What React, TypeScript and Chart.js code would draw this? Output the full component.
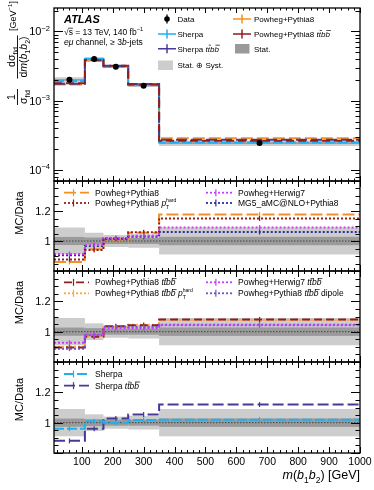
import React, { useEffect, useRef } from "react";
import { Chart, registerables } from "chart.js";

Chart.register(...registerables);

// ---------------- data ----------------
const binEdges = [10, 110, 170, 250, 350, 1000];
const xTickLabels = [100, 200, 300, 400, 500, 600, 700, 800, 900, 1000];
const mainYTicks = [1e-4, 1e-3, 1e-2];
const ratioYTickLabels = [1, 1.2];

const dataValues = [2.0e-3, 4.0e-3, 3.1e-3, 1.65e-3, 2.44e-4];
const totalRelErr = [0.09, 0.055, 0.04, 0.045, 0.09];
const statRelErr = [0.027, 0.023, 0.02, 0.02, 0.028];

const sherpaMain = [1.92e-3, 4.04e-3, 3.1e-3, 1.68e-3, 2.49e-4];
const sherpaTtbbMain = [1.76e-3, 3.84e-3, 3.19e-3, 1.74e-3, 2.73e-4];
const powPy8Main = [1.72e-3, 3.78e-3, 3.13e-3, 1.74e-3, 2.87e-4];
const powPy8TtbbMain = [1.79e-3, 3.87e-3, 3.21e-3, 1.72e-3, 2.64e-4];

// ratio panel 1
const r1PowPy8 = [0.86, 0.945, 1.01, 1.055, 1.177];
const r1PowPy8Hard = [0.877, 0.94, 1.017, 1.058, 1.15];
const r1PowH7 = [0.914, 0.973, 1.02, 1.035, 1.09];
const r1MG5 = [0.905, 0.966, 1.015, 1.028, 1.06];
// ratio panel 2
const r2PowPy8Ttbb = [0.896, 0.967, 1.035, 1.042, 1.08];
const r2PowPy8TtbbHard = [0.9, 0.972, 1.03, 1.046, 1.077];
const r2PowH7Ttbb = [0.927, 0.98, 1.022, 1.022, 1.042];
const r2Dipole = [0.888, 0.976, 1.033, 1.03, 1.045];
// ratio panel 3
const r3Sherpa = [0.96, 1.01, 1.0, 1.017, 1.02];
const r3SherpaTtbb = [0.88, 0.96, 1.028, 1.054, 1.12];

// ---------------- styles ----------------
const C_CYAN = "#1fb0ee";
const C_INDIGO = "#463a96";
const C_ORANGE = "#f7901e";
const C_DRED = "#931d1d";
const C_MAG = "#c93cff";
const C_MG5 = "#2e2e98";
const C_DIP = "#6a55c6";
const C_ORANGE2 = "#f9a23f";
const C_LIGHT = "#cdcdcd";
const C_DARK = "#9a9a9a";
const FONT = '"Liberation Sans", Arial, Helvetica, sans-serif';

const DASH_SHERPA = [10, 3];
const DASH_SHTTBB = [11, 4];
const DASH_ORANGE = [12, 4];
const DASH_DRED = [8, 4];
const DOT = [2, 2];

type Seg = {
  t?: string;
  it?: boolean;
  bold?: boolean;
  sub?: boolean;
  sup?: boolean;
  bar?: boolean;
  ss?: [string, string];
};

function segFont(s: Seg, size: number) {
  const sz = s.sub || s.sup ? size * 0.68 : size;
  return `${s.it ? "italic " : ""}${s.bold ? "bold " : ""}${sz}px ${FONT}`;
}

function measureRich(ctx: CanvasRenderingContext2D, segs: Seg[], size: number) {
  let w = 0;
  for (const s of segs) {
    if (s.ss) {
      ctx.font = `${size * 0.6}px ${FONT}`;
      w += Math.max(ctx.measureText(s.ss[0]).width, ctx.measureText(s.ss[1]).width);
    } else {
      ctx.font = segFont(s, size);
      w += ctx.measureText(s.t || "").width;
    }
  }
  return w;
}

function drawRich(
  ctx: CanvasRenderingContext2D,
  segs: Seg[],
  x: number,
  y: number,
  size: number,
  align: "left" | "right" | "center",
  color = "#000"
) {
  const w = measureRich(ctx, segs, size);
  let cx = align === "left" ? x : align === "right" ? x - w : x - w / 2;
  ctx.fillStyle = color;
  ctx.strokeStyle = color;
  ctx.textAlign = "left";
  ctx.textBaseline = "alphabetic";
  for (const s of segs) {
    if (s.ss) {
      ctx.font = `${size * 0.6}px ${FONT}`;
      ctx.fillText(s.ss[0], cx, y + size * 0.32);
      ctx.fillText(s.ss[1], cx, y - size * 0.5);
      cx += Math.max(ctx.measureText(s.ss[0]).width, ctx.measureText(s.ss[1]).width);
      continue;
    }
    ctx.font = segFont(s, size);
    const dy = s.sub ? size * 0.3 : s.sup ? -size * 0.42 : 0;
    const t = s.t || "";
    const tw = ctx.measureText(t).width;
    ctx.fillText(t, cx, y + dy);
    if (s.bar) {
      ctx.lineWidth = Math.max(0.7, size * 0.07);
      ctx.setLineDash([]);
      ctx.beginPath();
      const by = y + dy - size * 0.8;
      ctx.moveTo(cx + (s.it ? 1 : 0), by);
      ctx.lineTo(cx + tw + (s.it ? 1 : 0), by);
      ctx.stroke();
    }
    cx += tw;
  }
  return w;
}

const TTBB: Seg[] = [
  { t: " " },
  { t: "t", it: true },
  { t: "t", it: true, bar: true },
  { t: "b", it: true },
  { t: "b", it: true, bar: true },
];
const PTHARD: Seg[] = [{ t: " " }, { t: "p", it: true }, { ss: ["T", "hard"] }];

function stepPoints(vals: number[]) {
  return binEdges.map((x, i) => ({ x, y: vals[Math.min(i, vals.length - 1)] }));
}
const binCenters = binEdges.slice(0, -1).map((e, i) => (e + binEdges[i + 1]) / 2);

type Series = { vals: number[]; color: string; dash: number[]; axis: string; width?: number };

const mainSeries: Series[] = [
  { vals: powPy8Main, color: C_ORANGE, dash: DASH_ORANGE, axis: "y0" },
  { vals: sherpaMain, color: C_CYAN, dash: DASH_SHERPA, axis: "y0" },
  { vals: sherpaTtbbMain, color: C_INDIGO, dash: DASH_SHTTBB, axis: "y0" },
  { vals: powPy8TtbbMain, color: C_DRED, dash: DASH_DRED, axis: "y0" },
];
const ratioSeries: Series[] = [
  { vals: r1PowPy8, color: C_ORANGE, dash: DASH_ORANGE, axis: "y1" },
  { vals: r1PowPy8Hard, color: C_DRED, dash: DOT, axis: "y1" },
  { vals: r1MG5, color: C_MG5, dash: DOT, axis: "y1" },
  { vals: r1PowH7, color: C_MAG, dash: DOT, axis: "y1" },
  { vals: r2PowPy8TtbbHard, color: C_ORANGE2, dash: DOT, axis: "y2" },
  { vals: r2PowPy8Ttbb, color: C_DRED, dash: DASH_DRED, axis: "y2" },
  { vals: r2Dipole, color: C_DIP, dash: DOT, axis: "y2" },
  { vals: r2PowH7Ttbb, color: C_MAG, dash: DOT, axis: "y2" },
  { vals: r3SherpaTtbb, color: C_INDIGO, dash: DASH_SHTTBB, axis: "y3" },
  { vals: r3Sherpa, color: C_CYAN, dash: DASH_SHERPA, axis: "y3" },
];

const Y0_MIN = Math.pow(10, -4.16);
const Y0_MAX = Math.pow(10, -1.661);
const R_MIN = 0.8;
const R_MAX = 1.4;

const atlasPlugin = {
  id: "atlasDecor",
  beforeDatasetsDraw(chart: any) {
    const ctx: CanvasRenderingContext2D = chart.ctx;
    const xs = chart.scales.x;
    const area = chart.chartArea;
    ctx.save();
    ctx.beginPath();
    ctx.rect(area.left, area.top, area.right - area.left, area.bottom - area.top);
    ctx.clip();
    ["y0", "y1", "y2", "y3"].forEach((id) => {
      const s = chart.scales[id];
      for (let i = 0; i < dataValues.length; i++) {
        const x1 = xs.getPixelForValue(binEdges[i]);
        const x2 = xs.getPixelForValue(binEdges[i + 1]);
        const c = id === "y0" ? dataValues[i] : 1;
        const lay = (rel: number, col: string) => {
          const yt = s.getPixelForValue(c * (1 + rel));
          const yb = s.getPixelForValue(c * (1 - rel));
          ctx.fillStyle = col;
          ctx.fillRect(x1, yt, x2 - x1, yb - yt);
        };
        lay(totalRelErr[i], C_LIGHT);
        lay(statRelErr[i], C_DARK);
      }
      if (id !== "y0") {
        const y1 = s.getPixelForValue(1);
        ctx.strokeStyle = "#444";
        ctx.lineWidth = 1;
        ctx.setLineDash([1.5, 1.5]);
        ctx.beginPath();
        ctx.moveTo(area.left, y1);
        ctx.lineTo(area.right, y1);
        ctx.stroke();
        ctx.setLineDash([]);
      }
    });
    ctx.restore();
  },
  afterDatasetsDraw(chart: any) {
    const ctx: CanvasRenderingContext2D = chart.ctx;
    const xs = chart.scales.x;
    ctx.save();
    ctx.setLineDash([]);
    ctx.lineWidth = 1.2;
    for (const sr of ratioSeries) {
      const s = chart.scales[sr.axis];
      ctx.strokeStyle = sr.color;
      sr.vals.forEach((v, i) => {
        const px = xs.getPixelForValue(binCenters[i]);
        const py = s.getPixelForValue(v);
        ctx.beginPath();
        ctx.moveTo(px, py - 2.5);
        ctx.lineTo(px, py + 2.5);
        ctx.stroke();
      });
    }
    ctx.restore();
  },
  afterDraw(chart: any) {
    const ctx: CanvasRenderingContext2D = chart.ctx;
    const xs = chart.scales.x;
    const area = chart.chartArea;
    const L = area.left;
    const R = area.right;
    ctx.save();
    ctx.setLineDash([]);
    ctx.strokeStyle = "#000";
    ctx.fillStyle = "#000";

    const ids = ["y0", "y1", "y2", "y3"];
    ids.forEach((id) => {
      const s = chart.scales[id];
      const top = s.top;
      const bottom = s.bottom;
      ctx.lineWidth = 1;
      const xMajor = id === "y0" ? 5 : 6;
      for (let v = 20; v <= 1000; v += 20) {
        const px = Math.round(xs.getPixelForValue(v)) + 0.5;
        const len = v % 100 === 0 ? xMajor : xMajor / 2;
        ctx.beginPath();
        ctx.moveTo(px, bottom);
        ctx.lineTo(px, bottom - len);
        ctx.moveTo(px, top);
        ctx.lineTo(px, top + len);
        ctx.stroke();
      }
      const yt: [number, boolean][] = [];
      if (id === "y0") {
        for (let e = -5; e <= -1; e++) {
          for (let m = 1; m <= 9; m++) {
            const v = m * Math.pow(10, e);
            if (v >= Y0_MIN && v <= Y0_MAX) yt.push([v, m === 1]);
          }
        }
      } else {
        for (let k = 16; k <= 28; k++) yt.push([k / 20, k % 4 === 0]);
      }
      yt.forEach(([v, major]) => {
        const py = Math.round(s.getPixelForValue(v)) + 0.5;
        const len = major ? 9 : 4.5;
        ctx.beginPath();
        ctx.moveTo(L, py);
        ctx.lineTo(L + len, py);
        ctx.moveTo(R, py);
        ctx.lineTo(R - len, py);
        ctx.stroke();
      });
      ctx.lineWidth = 1.3;
      ctx.strokeRect(L, top, R - L, bottom - top);
    });

    const y0 = chart.scales.y0;
    mainYTicks.forEach((v) => {
      const py = y0.getPixelForValue(v);
      const exp = Math.round(Math.log10(v));
      drawRich(ctx, [{ t: "10" }, { t: "\u2212" + Math.abs(exp), sup: true }], 50, py + 4, 11, "right");
    });
    ["y1", "y2", "y3"].forEach((id) => {
      const s = chart.scales[id];
      ratioYTickLabels.forEach((v) => {
        const py = s.getPixelForValue(v);
        ctx.font = `11px ${FONT}`;
        ctx.textAlign = "right";
        ctx.textBaseline = "alphabetic";
        ctx.fillStyle = "#000";
        ctx.fillText(v === 1 ? "1" : v.toFixed(1), 50.5, py + 4);
      });
    });
    const y3 = chart.scales.y3;
    ctx.font = `10.5px ${FONT}`;
    ctx.textAlign = "center";
    ctx.fillStyle = "#000";
    xTickLabels.forEach((v) => {
      ctx.fillText(String(v), xs.getPixelForValue(v), y3.bottom + 11.5);
    });
    drawRich(
      ctx,
      [
        { t: "m", it: true },
        { t: "(" },
        { t: "b", it: true },
        { t: "1", sub: true },
        { t: "b", it: true },
        { t: "2", sub: true },
        { t: ") [GeV]" },
      ],
      R,
      y3.bottom + 26,
      12.5,
      "right"
    );

    const mcCenters: [string, number][] = [
      ["y1", -13],
      ["y2", -14],
      ["y3", -8],
    ];
    mcCenters.forEach(([id, off]) => {
      const s = chart.scales[id];
      const cy = (s.top + s.bottom) / 2 + off;
      ctx.save();
      ctx.translate(23, cy);
      ctx.rotate(-Math.PI / 2);
      ctx.font = `11px ${FONT}`;
      ctx.textAlign = "center";
      ctx.fillStyle = "#000";
      ctx.fillText("MC/Data", 0, 0);
      ctx.restore();
    });

    // main y title (rotated)
    ctx.save();
    ctx.translate(17.5, 0);
    ctx.rotate(-Math.PI / 2);
    const ts = 10.5;
    const frac = (num: Seg[], den: Seg[], cy: number) => {
      const u = -cy;
      const wn = measureRich(ctx, num, ts);
      const wd = measureRich(ctx, den, ts);
      const w = Math.max(wn, wd) + 2;
      drawRich(ctx, num, u, -2.5, ts, "center");
      drawRich(ctx, den, u, 9.5, ts, "center");
      ctx.lineWidth = 0.9;
      ctx.strokeStyle = "#000";
      ctx.beginPath();
      ctx.moveTo(u - w / 2, 0);
      ctx.lineTo(u + w / 2, 0);
      ctx.stroke();
    };
    frac([{ t: "1" }], [{ t: "\u03c3" }, { t: "fid", sub: true }], 97);
    frac(
      [{ t: "d\u03c3" }, { t: "fid", sub: true }],
      [
        { t: "d" },
        { t: "m", it: true },
        { t: "(" },
        { t: "b", it: true },
        { t: "1", sub: true },
        { t: "b", it: true },
        { t: "2", sub: true },
        { t: ")" },
      ],
      57
    );
    drawRich(ctx, [{ t: "[GeV" }, { t: "\u22121", sup: true }, { t: "]" }], -16, -2, 9, "center");
    ctx.restore();

    // ATLAS label
    drawRich(ctx, [{ t: "ATLAS", bold: true, it: true }], 64, 22.7, 11, "left");
    drawRich(
      ctx,
      [{ t: "\u221a" }, { t: "s", bar: true }, { t: " = 13 TeV, 140 fb" }, { t: "\u22121", sup: true }],
      64,
      35,
      8.5,
      "left"
    );
    drawRich(
      ctx,
      [{ t: "e\u03bc", it: true }, { t: " channel, \u2265 3" }, { t: "b", it: true }, { t: "-jets" }],
      64,
      44.7,
      8.5,
      "left"
    );

    // main legend
    const cross = (cx: number, cy: number, col: string) => {
      ctx.strokeStyle = col;
      ctx.lineWidth = 1.5;
      ctx.setLineDash([]);
      ctx.beginPath();
      ctx.moveTo(cx - 9, cy);
      ctx.lineTo(cx + 9, cy);
      ctx.moveTo(cx, cy - 4.5);
      ctx.lineTo(cx, cy + 4.5);
      ctx.stroke();
    };
    const lf = 8;
    ctx.fillStyle = "#000";
    ctx.beginPath();
    ctx.arc(167, 19, 2.8, 0, Math.PI * 2);
    ctx.fill();
    ctx.strokeStyle = "#000";
    ctx.lineWidth = 1.3;
    ctx.beginPath();
    ctx.moveTo(167, 14.5);
    ctx.lineTo(167, 23.5);
    ctx.stroke();
    drawRich(ctx, [{ t: "Data" }], 177.5, 21.9, lf, "left");
    cross(167, 34, C_CYAN);
    drawRich(ctx, [{ t: "Sherpa" }], 177.5, 36.9, lf, "left");
    cross(167, 48.7, C_INDIGO);
    drawRich(ctx, [{ t: "Sherpa" }, ...TTBB], 177.5, 51.6, lf, "left");
    ctx.fillStyle = C_LIGHT;
    ctx.fillRect(158, 60.5, 15, 9.5);
    drawRich(ctx, [{ t: "Stat. \u2295 Syst." }], 177.5, 68.2, lf, "left");
    cross(242, 19, C_ORANGE);
    drawRich(ctx, [{ t: "Powheg+Pythia8" }], 254, 21.9, lf, "left");
    cross(242, 34, C_DRED);
    drawRich(ctx, [{ t: "Powheg+Pythia8" }, ...TTBB], 254, 36.9, lf, "left");
    ctx.fillStyle = C_DARK;
    ctx.fillRect(235, 44, 14.5, 9.5);
    drawRich(ctx, [{ t: "Stat." }], 254, 51.6, lf, "left");

    // ratio legends
    const pf = 8.5;
    const lineMark = (x1: number, x2: number, cy: number, col: string, dash: number[]) => {
      ctx.strokeStyle = col;
      ctx.lineWidth = 1.8;
      ctx.setLineDash(dash);
      ctx.beginPath();
      ctx.moveTo(x1, cy);
      ctx.lineTo(x2, cy);
      ctx.stroke();
      ctx.setLineDash([]);
      ctx.lineWidth = 1.2;
      const mx = x1 + (x2 - x1) * 0.38;
      ctx.beginPath();
      ctx.moveTo(mx, cy - 3.5);
      ctx.lineTo(mx, cy + 3.5);
      ctx.stroke();
    };
    const entry = (col: number, cy: number, color: string, dash: number[], label: Seg[]) => {
      if (col === 0) {
        lineMark(64, 89, cy, color, dash);
        drawRich(ctx, label, 95, cy + 3.1, pf, "left");
      } else {
        lineMark(206, 232, cy, color, dash);
        drawRich(ctx, label, 238, cy + 3.1, pf, "left");
      }
    };
    entry(0, 192.7, C_ORANGE, DASH_ORANGE, [{ t: "Powheg+Pythia8" }]);
    entry(0, 203, C_DRED, DOT, [{ t: "Powheg+Pythia8" }, ...PTHARD]);
    entry(1, 192.7, C_MAG, DOT, [{ t: "Powheg+Herwig7" }]);
    entry(1, 203, C_MG5, DOT, [{ t: "MG5_aMC@NLO+Pythia8" }]);

    entry(0, 282.3, C_DRED, DASH_DRED, [{ t: "Powheg+Pythia8" }, ...TTBB]);
    entry(0, 293.3, C_ORANGE2, DOT, [{ t: "Powheg+Pythia8" }, ...TTBB, ...PTHARD]);
    entry(1, 282.3, C_MAG, DOT, [{ t: "Powheg+Herwig7" }, ...TTBB]);
    entry(1, 293.3, C_DIP, DOT, [{ t: "Powheg+Pythia8" }, ...TTBB, { t: " dipole" }]);

    entry(0, 374, C_CYAN, DASH_SHERPA, [{ t: "Sherpa" }]);
    entry(0, 385.7, C_INDIGO, DASH_SHTTBB, [{ t: "Sherpa" }, ...TTBB]);

    ctx.restore();
  },
};

export default function App() {
  const ref = useRef<HTMLCanvasElement>(null);
  useEffect(() => {
    document.body.style.margin = "0";
    const canvas = ref.current!;
    const mk = (sr: Series, order: number) => ({
      type: "line" as const,
      data: stepPoints(sr.vals),
      borderColor: sr.color,
      backgroundColor: sr.color,
      borderDash: sr.dash,
      borderWidth: sr.width ?? 2,
      borderCapStyle: "butt" as const,
      pointRadius: 0,
      stepped: "before" as const,
      fill: false,
      yAxisID: sr.axis,
      order,
    });
    const datasets: any[] = [
      {
        type: "line",
        data: binCenters.map((x, i) => ({ x, y: dataValues[i] })),
        showLine: false,
        pointRadius: 3,
        pointBackgroundColor: "#000",
        pointBorderColor: "#000",
        pointBorderWidth: 0,
        yAxisID: "y0",
        order: 0,
      },
      ...mainSeries.map((s, i) => mk(s, 10 - i)),
      ...ratioSeries.map((s, i) => mk(s, 30 - i)),
    ];
    const chart = new Chart(canvas, {
      type: "line",
      data: { datasets },
      options: {
        animation: false,
        responsive: false,
        maintainAspectRatio: false,
        devicePixelRatio: 1,
        layout: { padding: { left: 54, right: 14, top: 8, bottom: 37 } },
        plugins: { legend: { display: false }, tooltip: { enabled: false } },
        scales: {
          x: { type: "linear", min: 10, max: 1000, display: false },
          y3: { type: "linear", min: R_MIN, max: R_MAX, stack: "p", stackWeight: 91, display: false },
          y2: { type: "linear", min: R_MIN, max: R_MAX, stack: "p", stackWeight: 91, display: false },
          y1: { type: "linear", min: R_MIN, max: R_MAX, stack: "p", stackWeight: 90, display: false },
          y0: { type: "logarithmic", min: Y0_MIN, max: Y0_MAX, stack: "p", stackWeight: 173, display: false },
        },
      } as any,
      plugins: [atlasPlugin],
    });
    return () => chart.destroy();
  }, []);
  return (
    <div style={{ width: 374, height: 490, background: "#fff" }}>
      <canvas ref={ref} width={374} height={490} style={{ display: "block", width: 374, height: 490 }} />
    </div>
  );
}
